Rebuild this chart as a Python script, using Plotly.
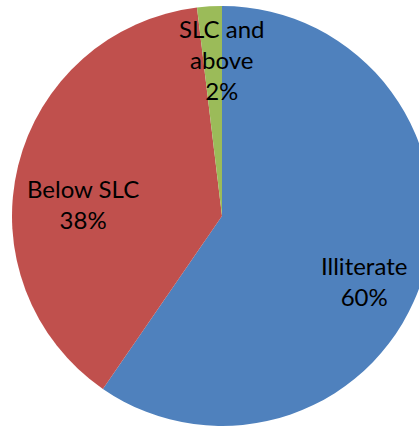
import plotly.graph_objects as go

labels = ["Illiterate", "Below SLC", "SLC and above"]
values = [59.6, 38.5, 1.9]
colors = ["#4F81BD", "#C0504D", "#9BBB59"]
label_text = ["Illiterate<br>60%", "Below SLC<br>38%", "SLC and<br>above<br>2%"]

W, H = 444, 426
label_pos = [(364, 281), (83, 204), (221, 59)]

fig = go.Figure(go.Pie(
    labels=labels, values=values, sort=False, direction="clockwise", rotation=0,
    marker=dict(colors=colors, line=dict(width=0)),
    textinfo="none", hoverinfo="label+percent",
    domain=dict(x=[0, 1], y=[0, 420 / 426]),
    showlegend=False,
))

for t, (px, py) in zip(label_text, label_pos):
    fig.add_annotation(x=px / W, y=1 - py / H, xref="paper", yref="paper",
                       text=t, showarrow=False, xanchor="center", yanchor="middle",
                       font=dict(family="Lato", size=24, color="#000000"))

fig.update_layout(width=W, height=H, margin=dict(l=0, r=0, t=0, b=0),
                  paper_bgcolor="white", plot_bgcolor="white")

fig.write_html("out.html", config={"displayModeBar": False},
               post_script="document.body.style.overflow='hidden';document.body.style.margin='0';")
